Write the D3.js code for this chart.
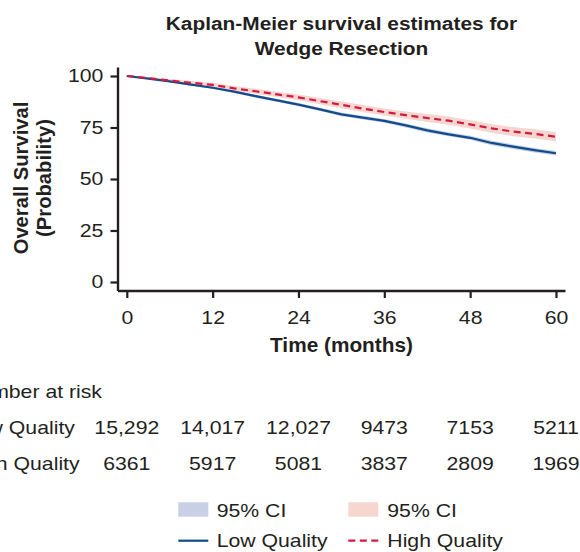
<!DOCTYPE html>
<html>
<head>
<meta charset="utf-8">
<script src="https://cdn.jsdelivr.net/npm/d3@7"></script>
<style>
  body { margin: 0; background: #fff; }
  svg { display: block; font-family: "Liberation Sans", Arial, Helvetica, sans-serif; }
  text { fill: #231f20; }
</style>
</head>
<body>
<script>
var months = [0, 3, 6, 9, 12, 15, 18, 21, 24, 27, 30, 33, 36, 39, 42, 45, 48, 51, 54, 57, 60];

// Low Quality: survival estimate and 95% CI
var lowSurv  = [100, 98.7, 97.4, 95.8, 94.3, 92.4, 90.2, 88.2, 86.1, 83.8, 81.4, 79.8, 78.2, 76.0, 73.6, 71.7, 70.0, 67.5, 65.7, 64.0, 62.5];
var lowLower = [100, 98.4, 97.0, 95.3, 93.8, 91.8, 89.5, 87.5, 85.3, 83.0, 80.5, 78.9, 77.3, 75.0, 72.6, 70.7, 69.0, 66.4, 64.6, 62.9, 61.4];
var lowUpper = [100, 99.0, 97.8, 96.3, 94.8, 93.0, 90.9, 88.9, 86.9, 84.6, 82.3, 80.7, 79.1, 77.0, 74.6, 72.7, 71.0, 68.6, 66.8, 65.1, 63.6];

// High Quality: survival estimate and 95% CI
var highSurv  = [100, 99.0, 97.8, 96.7, 95.7, 94.0, 92.6, 91.1, 89.6, 87.8, 86.0, 84.2, 82.5, 81.0, 79.6, 78.3, 76.5, 74.6, 73.0, 71.9, 70.5];
var highLower = [100, 98.5, 97.0, 95.8, 94.7, 92.9, 91.4, 89.8, 88.2, 86.3, 84.4, 82.5, 80.8, 79.2, 77.7, 76.3, 74.5, 72.5, 70.8, 69.6, 68.2];
var highUpper = [100, 99.5, 98.6, 97.6, 96.7, 95.1, 93.8, 92.4, 91.0, 89.3, 87.6, 85.9, 84.2, 82.8, 81.5, 80.3, 78.5, 76.7, 75.2, 74.2, 72.8];

// axis ticks and the number-at-risk table
var xTicks = [0, 12, 24, 36, 48, 60];
var yTicks = [0, 25, 50, 75, 100];
var riskLow  = [15292, 14017, 12027, 9473, 7153, 5211];
var riskHigh = [6361, 5917, 5081, 3837, 2809, 1969];

var svgWidth = 580, svgHeight = 552;
var SX = 1.18; // the reference text is drawn a bit wide
var blue = "#124b8c", red = "#d21a45";
var blueCI = "#c7d0e4", redCI = "#f6d6cf";

var svg = d3.select("body").append("svg")
  .attr("width", svgWidth)
  .attr("height", svgHeight);

svg.append("rect").attr("width", svgWidth).attr("height", svgHeight).attr("fill", "#fff");

// helper for wide text
function wideText(x, y, str, size, anchor, weight) {
  return svg.append("text")
    .attr("transform", `translate(${x},${y}) scale(${SX},1)`)
    .attr("text-anchor", anchor || "start")
    .style("font-size", size + "px")
    .style("font-weight", weight || "normal")
    .text(str);
}

// scales (domain padded so the axis lines run a little past the ticks)
var x = d3.scaleLinear().domain([-1.3, 61.26]).range([117.5, 565]);
var y = d3.scaleLinear().domain([-4.13, 104.37]).range([290.5, 67]);

// title
wideText(341.5, 30, "Kaplan-Meier survival estimates for", 17.7, "middle", "bold");
wideText(341.5, 55, "Wedge Resection", 17.7, "middle", "bold");

// CI bands
var band = d3.area()
  .x((d, i) => x(months[i]))
  .y0(d => y(d[0]))
  .y1(d => y(d[1]));

svg.append("path")
  .datum(d3.zip(lowLower, lowUpper))
  .attr("fill", blueCI)
  .attr("d", band);

svg.append("path")
  .datum(d3.zip(highLower, highUpper))
  .attr("fill", redCI)
  .attr("d", band);

// survival lines
var line = d3.line()
  .x((d, i) => x(months[i]))
  .y(d => y(d));

svg.append("path")
  .datum(lowSurv)
  .attr("fill", "none")
  .attr("stroke", blue)
  .attr("stroke-width", 2.2)
  .attr("d", line);

svg.append("path")
  .datum(highSurv)
  .attr("fill", "none")
  .attr("stroke", red)
  .attr("stroke-width", 2.2)
  .attr("stroke-dasharray", "7,4.5")
  .attr("d", line);

// axes
var xAxis = svg.append("g")
  .attr("transform", "translate(0,290.5)")
  .call(d3.axisBottom(x).tickValues(xTicks).tickSize(7.5).tickSizeOuter(0).tickPadding(13));

var yAxis = svg.append("g")
  .attr("transform", "translate(117.5,0)")
  .call(d3.axisLeft(y).tickValues(yTicks).tickSize(7).tickSizeOuter(0).tickPadding(5));

[xAxis, yAxis].forEach(function(ax) {
  ax.select(".domain").attr("stroke", "#231f20").attr("stroke-width", 2.4);
  ax.selectAll(".tick line").attr("stroke", "#231f20").attr("stroke-width", 2.2);
  ax.selectAll(".tick text")
    .attr("fill", "#231f20")
    .style("font-size", "18px")
    .style("font-family", "\"Liberation Sans\", Arial, sans-serif")
    .attr("transform", `scale(${SX},1)`);
});

// axis titles
svg.append("text")
  .attr("x", 341.5).attr("y", 352)
  .attr("text-anchor", "middle")
  .style("font-size", "20.8px").style("font-weight", "bold")
  .text("Time (months)");

svg.append("text")
  .attr("transform", "translate(27.5,178) rotate(-90)")
  .attr("text-anchor", "middle")
  .style("font-size", "20.2px").style("font-weight", "bold")
  .text("Overall Survival");

svg.append("text")
  .attr("transform", "translate(50.5,178) rotate(-90)")
  .attr("text-anchor", "middle")
  .style("font-size", "20.2px").style("font-weight", "bold")
  .text("(Probability)");

// number at risk table
var fmt = n => n >= 10000 ? d3.format(",")(n) : String(n);
wideText(-36, 398, "Number at risk", 18);
wideText(-36, 434, "Low Quality", 18);
wideText(-36, 470, "High Quality", 18);

xTicks.forEach(function(t, i) {
  wideText(x(t), 434, fmt(riskLow[i]), 18, "middle");
  wideText(x(t), 470, fmt(riskHigh[i]), 18, "middle");
});

// legend
svg.append("rect").attr("x", 178.3).attr("y", 502.3).attr("width", 30).attr("height", 14.4).attr("fill", blueCI);
wideText(216.7, 516.7, "95% CI", 18);
svg.append("rect").attr("x", 348.3).attr("y", 502.3).attr("width", 30).attr("height", 14.4).attr("fill", redCI);
wideText(387.3, 516.7, "95% CI", 18);

svg.append("line").attr("x1", 178.3).attr("x2", 208.3).attr("y1", 540.7).attr("y2", 540.7)
  .attr("stroke", blue).attr("stroke-width", 2.2);
wideText(216.7, 547.3, "Low Quality", 18);
svg.append("line").attr("x1", 348.3).attr("x2", 378.3).attr("y1", 540.7).attr("y2", 540.7)
  .attr("stroke", red).attr("stroke-width", 2.2).attr("stroke-dasharray", "7,4.5");
wideText(387.3, 547.3, "High Quality", 18);
</script>
</body>
</html>
